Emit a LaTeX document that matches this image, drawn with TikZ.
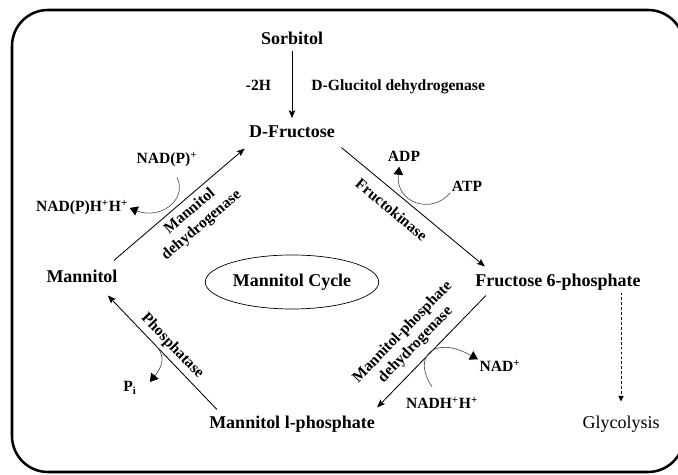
\documentclass[tikz,border=0pt]{standalone}
\usepackage{fontspec}
\setmainfont{Liberation Serif}
\usetikzlibrary{positioning,arrows.meta,shapes.geometric,calc}

\newcommand{\metfont}{\fontsize{12.8}{14}\selectfont\bfseries}
\newcommand{\labfont}{\fontsize{11.1}{12.8}\selectfont\bfseries}

\begin{document}
\begin{tikzpicture}[
  met/.style={font=\metfont, inner sep=1.5pt, text height=9pt, text depth=2.6pt},
  cof/.style={font=\labfont, inner sep=1pt, text height=7.8pt, text depth=2.2pt},
  enz/.style={font=\labfont, inner sep=0pt, align=center, sloped},
  rxn/.style={-{Stealth[length=2mm,width=1.6mm,inset=0.4mm]}, line width=0.6pt},
  cofarr/.style={-{Triangle[length=2mm,width=2.4mm,color=black]}, draw=black!65, line width=0.5pt},
  dsh/.style={-{Triangle[length=1.4mm,width=1.3mm]}, dash pattern=on 2pt off 1.5pt, line width=0.5pt}
]
\useasboundingbox (0,0) rectangle (16.95,11.875);
\clip (0,0) rectangle (16.95,11.875);
\draw[line width=1.8pt, rounded corners=0.9cm] (0.3,0.075) rectangle (17.1,11.625);

% metabolites
\node[met] (sorb)  at (7.3,10.875)  {Sorbitol};
\node[met] (dfru)  at (7.3,8.55)    {D-Fructose};
\node[met] (mann)  at (2.05,4.925)  {Mannitol};
\node[met] (f6p)   at (13.95,4.825) {Fructose 6-phosphate};
\node[met] (m1p)   at (7.3,1.275)   {Mannitol l-phosphate};
\node[met, font=\fontsize{12.8}{14}\selectfont] (glyco) at (15.525,1.275) {Glycolysis};
\node[met, ellipse, draw, line width=0.5pt, minimum width=4.2cm, minimum height=1.35cm]
  (cycle) at (7.3,4.825) {Mannitol Cycle};

% cofactors
\node[cof] (nadp)  at (4.175,7.875) {NAD(P)\textsuperscript{+}};
\node[cof] (nadph) at (2.05,6.675)  {NAD(P)H\textsuperscript{+}H\textsuperscript{+}};
\node[cof] (adp)   at (10.1,7.925)  {ADP};
\node[cof] (atp)   at (11.675,7.175) {ATP};
\node[cof] (nad)   at (12.5,2.675)  {NAD\textsuperscript{+}};
\node[cof] (nadh)  at (11.05,1.75)  {NADH\textsuperscript{+}H\textsuperscript{+}};
\node[cof] (pi)    at (3.25,2.175)  {P\textsubscript{i}};

% reactions
\draw[rxn, shorten >=3pt] (sorb) --
  node[cof, left=0.48cm] (m2h) {-2H}
  node[cof, right=0.44cm] (gdh) {D-Glucitol dehydrogenase} (dfru);
\draw[rxn] ([shift={(-0.15,0.175)}]mann.north east) --
  node[enz, pos=0.52, below=3.5pt] (mdh) {Mannitol\\dehydrogenase}
  ([shift={(-0.05,-0.125)}]dfru.south west);
\draw[rxn] ([shift={(0.1,-0.1)}]dfru.south east) --
  node[enz, pos=0.42, below=7pt] (fk) {Fructokinase}
  ([shift={(0.3,0.125)}]f6p.north west);
\draw[rxn] ([shift={(0.325,-0.075)}]f6p.south west) --
  node[enz, pos=0.54, above=6pt] (mpdh) {Mannitol-phosphate\\dehydrogenase}
  ([shift={(0,0.15)}]m1p.north east);
\draw[rxn] ([shift={(0.25,0.1)}]m1p.north west) --
  node[enz, pos=0.485, above=2.8pt] (ph) {Phosphatase}
  coordinate[pos=0.545] (phx)
  ([shift={(-0.3,-0.175)}]mann.south east);
\draw[dsh] (f6p.south -| glyco.north) -- ([yshift=0.3cm]glyco.north);

% cofactor turnover
\draw[cofarr] ([shift={(0.25,-0.215)}]nadp.south)
  .. controls +(0.275,-0.575) and +(0.75,-0.3) .. (nadph.east);
\draw[cofarr] ([yshift=-0.12cm]atp.west)
  .. controls +(-0.45,-0.55) and +(-0.1,-0.925) .. ([xshift=-0.12cm]adp.south);
\draw[cofarr] ([shift={(-0.25,0.24)}]nadh.north)
  .. controls +(-0.5,0.725) and +(-1.125,0.625) .. (nad.north west);
\draw[cofarr] (phx)
  .. controls +(0.2,-0.25) and +(0.3,0.375) .. ([shift={(0.29,0.15)}]pi.east);
\end{tikzpicture}
\end{document}
